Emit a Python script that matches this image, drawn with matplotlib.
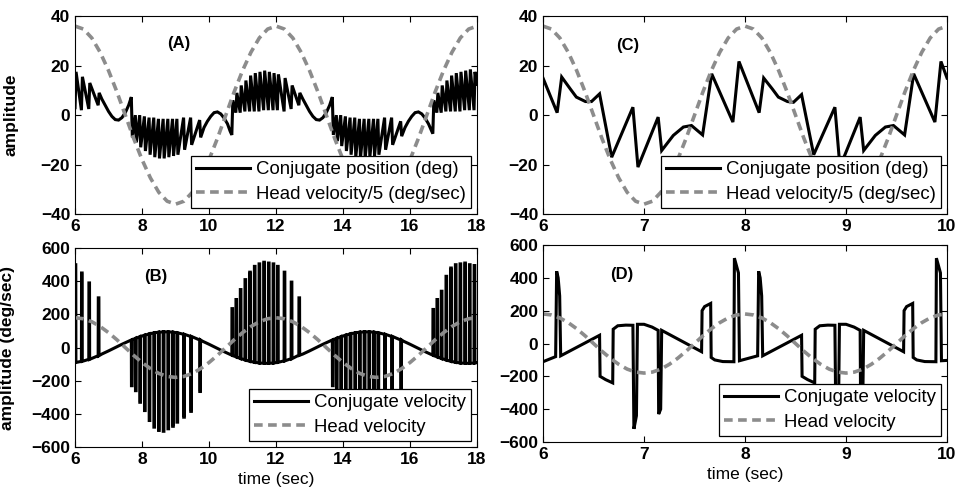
import numpy as np
import matplotlib
matplotlib.use("Agg")
import matplotlib.pyplot as plt

plt.rcParams['font.family'] = ['Liberation Sans', 'DejaVu Sans']
plt.rcParams['font.weight'] = 'bold'
plt.rcParams['axes.labelweight'] = 'bold'

# ---- head velocity (deg/sec), two cycles sampled every 1/24 cycle ----
head_vel = [180, 174, 156, 127, 90, 47, 0, -47, -90, -127, -156, -174,
            -180, -174, -156, -127, -90, -47, 0, 47, 90, 127, 156, 174,
            180, 174, 156, 127, 90, 47, 0, -47, -90, -127, -156, -174,
            -180, -174, -156, -127, -90, -47, 0, 47, 90, 127, 156, 174, 180]
t_head_ab = np.linspace(6, 18, len(head_vel))
t_head_cd = np.linspace(6, 10, len(head_vel))

# ---- panels A/B: fast phases (start time, position before/after, velocities) ----
fast_t_ab = [6.00, 6.19, 6.41, 6.69,
             7.68, 7.80, 7.93, 8.07, 8.21, 8.35, 8.49, 8.63, 8.77, 8.91, 9.04, 9.24, 9.45, 9.72,
             10.68, 10.80, 10.93, 11.07, 11.21, 11.35, 11.49, 11.63, 11.77, 11.91, 12.04, 12.24, 12.45, 12.68,
             13.68, 13.80, 13.93, 14.07, 14.21, 14.35, 14.49, 14.63, 14.77, 14.91, 15.04, 15.24, 15.45, 15.72,
             16.68, 16.80, 16.93, 17.07, 17.21, 17.35, 17.49, 17.63, 17.77, 17.91]
fast_from_ab = [3, 2, 2.5, 4,
                7.3, 0, 0, -0.5, -1, -1, -1.5, -1.5, -1.5, -1.5, -1.5, -1, -1, -2,
                -8, 1, 1, 1.5, 1.5, 1.5, 1.5, 2, 2, 2, 2, 1.5, 2.5, 4,
                7.3, 0, 0, -0.5, -1, -1, -1.5, -1.5, -1.5, -1.5, -1.5, -1, -1, -2.5,
                -7.5, 1, 1, 1.5, 1.5, 1.5, 1.5, 2, 2, 2]
fast_to_ab = [17.5, 15.5, 13, 9,
              -9, -11, -13, -14.5, -16, -17, -17.5, -17.5, -17, -16.5, -16, -14, -12, -9,
              6, 9, 12, 14, 16, 17, 17.5, 18, 17.5, 17, 16.5, 15, 12, 9,
              -8, -10.5, -12.5, -14.5, -16, -17, -17.5, -17.5, -17, -16.5, -16, -14, -12, -8.5,
              6, 9, 12, 14, 16, 17, 17.5, 18, 18.5, 17.5]
slow_vel_ab = [-90, -83, -71, -49,
               46, 56, 66, 75, 83, 89, 93, 95, 95, 93, 89, 80, 67, 46,
               -46, -56, -66, -75, -83, -89, -93, -95, -95, -93, -89, -80, -67, -46,
               46, 56, 66, 75, 83, 89, 93, 95, 95, 93, 89, 80, 67, 46,
               -46, -56, -66, -75, -83, -89, -93, -95, -95, -93]
peak_vel_ab = [500, 450, 390, 300,
               -230, -260, -330, -380, -440, -480, -500, -505, -490, -475, -450, -420, -385, -265,
               235, 290, 350, 410, 455, 490, 505, 515, 510, 505, 490, 455, 395, 300,
               -230, -260, -330, -380, -440, -480, -500, -505, -490, -475, -450, -420, -385, -265,
               230, 290, 340, 430, 480, 500, 505, 510, 500, 495]

# smooth stretches without fast phases
drift_t_ab = [6.8, 6.9, 7.0, 7.1, 7.2, 7.3, 7.4, 7.5, 7.6,
              9.85, 9.95, 10.05, 10.15, 10.25, 10.35, 10.45, 10.55, 10.63,
              12.8, 12.9, 13.0, 13.1, 13.2, 13.3, 13.4, 13.5, 13.6,
              15.85, 15.95, 16.05, 16.15, 16.25, 16.35, 16.45, 16.55, 16.63,
              18.0]
drift_ab = [6.5, 4, 1.5, -0.5, -1.8, -2, -1, 1, 4,
            -5, -2.5, -0.5, 1, 1.3, 0.5, -1.2, -3.5, -6.5,
            6.5, 4, 1.5, -0.5, -1.8, -2, -1, 1, 4,
            -5, -2.5, -0.5, 1, 1.3, 0.5, -1.2, -3.5, -6,
            12.5]
slowv_t_ab = [6.8, 7.0, 7.2, 7.4, 7.6, 9.8, 10.0, 10.2, 10.4, 10.6,
              12.8, 13.0, 13.2, 13.4, 13.6, 15.8, 16.0, 16.2, 16.4, 16.6, 18.0]
slowv_ab = [-39, -20, 0, 20, 39, 39, 20, 0, -20, -39,
            -39, -20, 0, 20, 39, 39, 20, 0, -20, -39, -91]

# ---- panels C/D ----
c_t = [6.00, 6.14, 6.185, 6.27, 6.33, 6.42, 6.48, 6.56, 6.68, 6.89, 6.94, 7.14, 7.175, 7.29, 7.39,
       7.47, 7.58, 7.67, 7.88, 7.94,
       8.14, 8.185, 8.27, 8.33, 8.42, 8.48, 8.56, 8.68, 8.89, 8.94, 9.14, 9.175, 9.29, 9.39,
       9.47, 9.58, 9.67, 9.88, 9.94, 10.00]
c_pos = [15, 1, 15.4, 10.6, 7.3, 5.5, 5.5, 8.6, -17, 3.2, -21, -0.8, -14.3, -8.2, -4.8,
         -4.2, -8, 16.7, -2.8, 21.7,
         1, 15, 10.6, 7.3, 5.5, 5.2, 8.3, -16, 3.2, -21, -0.8, -14.3, -8.2, -4.8,
         -4.2, -8, 16.7, -2.8, 21.7, 15]
d_t = [6.00, 6.125, 6.135, 6.15, 6.165, 6.175, 6.56, 6.565, 6.62, 6.69, 6.695, 6.74, 6.82, 6.89,
       6.90, 6.925, 6.935, 7.00, 7.08, 7.14, 7.145, 7.165, 7.175, 7.57, 7.575, 7.60, 7.66, 7.665,
       7.70, 7.78, 7.89, 7.895, 7.935, 7.945,
       8.125, 8.135, 8.15, 8.165, 8.175, 8.56, 8.565, 8.62, 8.69, 8.695, 8.74, 8.82, 8.89,
       8.90, 8.925, 8.935, 9.00, 9.08, 9.14, 9.145, 9.165, 9.175, 9.57, 9.575, 9.60, 9.66, 9.665,
       9.70, 9.78, 9.89, 9.895, 9.935, 9.945, 10.00]
d_vel = [-111, -80, 440, 400, 290, -75, 50, -200, -220, -240, 87, 108, 112, 111,
         -520, -440, 117, 117, 100, 80, -430, -400, 80, -50, 200, 225, 244, -85,
         -100, -110, -111, 520, 430, -105,
         -75, 440, 400, 290, -75, 50, -200, -220, -240, 87, 108, 112, 111,
         -520, -440, 117, 117, 100, 80, -430, -400, 80, -50, 200, 225, 244, -85,
         -100, -110, -111, 520, 430, -105, -103]

# ---- build traces for A/B from the fast-phase table ----
FAST_DUR = 0.03
pts = list(zip(drift_t_ab, drift_ab))
for t, a, b in zip(fast_t_ab, fast_from_ab, fast_to_ab):
    pts += [(t, a), (t + FAST_DUR, b)]
pts.sort()
pos_t_ab, pos_ab = zip(*pts)

pts = list(zip(slowv_t_ab, slowv_ab))
for t, s, p in zip(fast_t_ab, slow_vel_ab, peak_vel_ab):
    pts += [(t, s), (t + 0.004, p), (t + 0.022, p), (t + 0.026, s)]
pts.sort()
vel_t_ab, vel_ab = zip(*pts)

BLACK = dict(color='black', lw=2.2, solid_joinstyle='miter')
GRAY = dict(color='#8c8c8c', lw=2.6, ls=(0, (2.4, 1.5)))

fig = plt.figure(figsize=(9.56, 4.91), dpi=100)
axA = fig.add_axes([0.0785, 0.564, 0.4205, 0.403])
axB = fig.add_axes([0.0785, 0.0896, 0.4205, 0.405])
axC = fig.add_axes([0.568, 0.564, 0.4226, 0.403])
axD = fig.add_axes([0.568, 0.0998, 0.4226, 0.4012])

axA.plot(pos_t_ab, pos_ab, label='Conjugate position (deg)', **BLACK)
axA.plot(t_head_ab, np.array(head_vel) / 5, label='Head velocity/5 (deg/sec)', **GRAY)
axB.plot(vel_t_ab, vel_ab, label='Conjugate velocity', **BLACK)
axB.plot(t_head_ab, head_vel, label='Head velocity', **GRAY)
axC.plot(c_t, c_pos, label='Conjugate position (deg)', **BLACK)
axC.plot(t_head_cd, np.array(head_vel) / 5, label='Head velocity/5 (deg/sec)', **GRAY)
axD.plot(d_t, d_vel, label='Conjugate velocity', **BLACK)
axD.plot(t_head_cd, head_vel, label='Head velocity', **GRAY)

axA.set_xticks(range(6, 19, 2))
axB.set_xticks(range(6, 19, 2))
axC.set_xticks(range(6, 11))
axD.set_xticks(range(6, 11))
for ax in (axA, axC):
    ax.set_ylim(-40, 40)
    ax.set_yticks(range(-40, 41, 20))
for ax in (axB, axD):
    ax.set_ylim(-600, 600)
    ax.set_yticks(range(-600, 601, 200))

for ax, xl in [(axA, (6, 18)), (axB, (6, 18)), (axC, (6, 10)), (axD, (6, 10))]:
    ax.set_xlim(*xl)
    ax.tick_params(direction='in', top=True, right=True, length=4, width=0.8,
                   labelsize=12.5, pad=3.5)
    for lab in ax.get_xticklabels() + ax.get_yticklabels():
        lab.set_fontweight('bold')
    for s in ax.spines.values():
        s.set_linewidth(0.8)
    leg = ax.legend(loc='lower right', frameon=True, fancybox=False,
                    edgecolor='black', framealpha=1, borderaxespad=0.3,
                    handlelength=2.9, handletextpad=0.3, borderpad=0.3,
                    labelspacing=0.4, prop={'weight': 'normal', 'size': 13.4})
    leg.get_frame().set_linewidth(0.9)

axA.set_ylabel('amplitude', fontsize=12.5)
axA.yaxis.set_label_coords(-0.14, 0.5)
axB.set_ylabel('amplitude (deg/sec)', fontsize=12.5)
axB.yaxis.set_label_coords(-0.15, 0.5)
axB.set_xlabel('time (sec)', fontsize=12.5, fontweight='normal', labelpad=4)
axD.set_xlabel('time (sec)', fontsize=12.5, fontweight='normal', labelpad=4)

axA.text(9.1, 29, '(A)', fontsize=12, ha='center', va='center')
axB.text(8.4, 430, '(B)', fontsize=12, ha='center', va='center')
axC.text(6.84, 28, '(C)', fontsize=12, ha='center', va='center')
axD.text(6.78, 420, '(D)', fontsize=12, ha='center', va='center')

fig.savefig('out.png', dpi=100)
